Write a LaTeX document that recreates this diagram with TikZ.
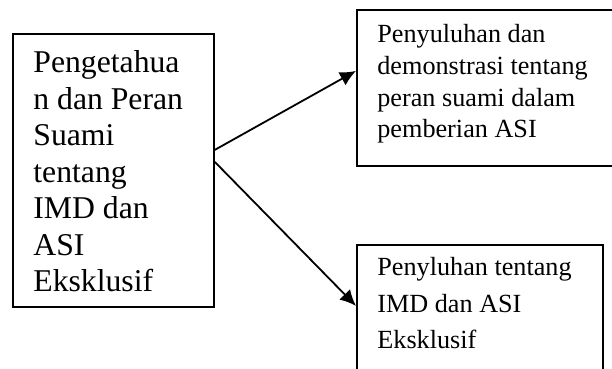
\documentclass[tikz,border=0pt]{standalone}
\usepackage{fontspec}
\setmainfont{Liberation Serif}
\usepackage{tikz}
\usetikzlibrary{arrows.meta}

\tikzset{
  box/.style={draw=black, line width=0.9pt, inner sep=0pt, anchor=north west},
  bigtext/.style={align=left, inner sep=0pt, anchor=base west,
    font=\fontsize{15.85}{18.25}\selectfont},
  smalltext/.style={align=left, inner sep=0pt, anchor=base west,
    font=\fontsize{13.1}{15.85}\selectfont},
  link/.style={line width=0.9pt, -{Latex[length=8pt,width=7.5pt]}}
}

\begin{document}
\begin{tikzpicture}[x=0.5pt, y=-0.5pt]

    % frame
    \useasboundingbox (0,0) rectangle (612,369);
    \clip (0,0) rectangle (612,369);

    % left box (text placed by its last baseline)
    \node[box, minimum width=100.5pt, minimum height=136.5pt] (suami) at (12,33) {};
    \node[bigtext] (suamitext) at (33,292)
      {Pengetahua\\n dan Peran\\Suami\\tentang\\IMD dan\\ASI\\Eksklusif};

    % upper right box
    \node[box, minimum width=134.5pt, minimum height=78pt] (demo) at (356,9) {};
    \node[smalltext] (demotext) at (377,138)
      {Penyuluhan dan\\demonstrasi tentang\\peran suami dalam\\pemberian ASI};

    % lower right box
    \node[box, minimum width=123pt, minimum height=78pt] (imd) at (356,244) {};
    \node[smalltext, font=\fontsize{13.1}{18.25}\selectfont] (imdtext) at (377,349)
      {Penyluhan tentang\\IMD dan ASI\\Eksklusif};

    % edges
    \draw[link] ([yshift=10.25pt]suami.east) -- ([yshift=8.5pt]demo.west);
    \draw[link] ([yshift=4.25pt]suami.east) -- ([yshift=8.5pt]imd.west);

\end{tikzpicture}
\end{document}
